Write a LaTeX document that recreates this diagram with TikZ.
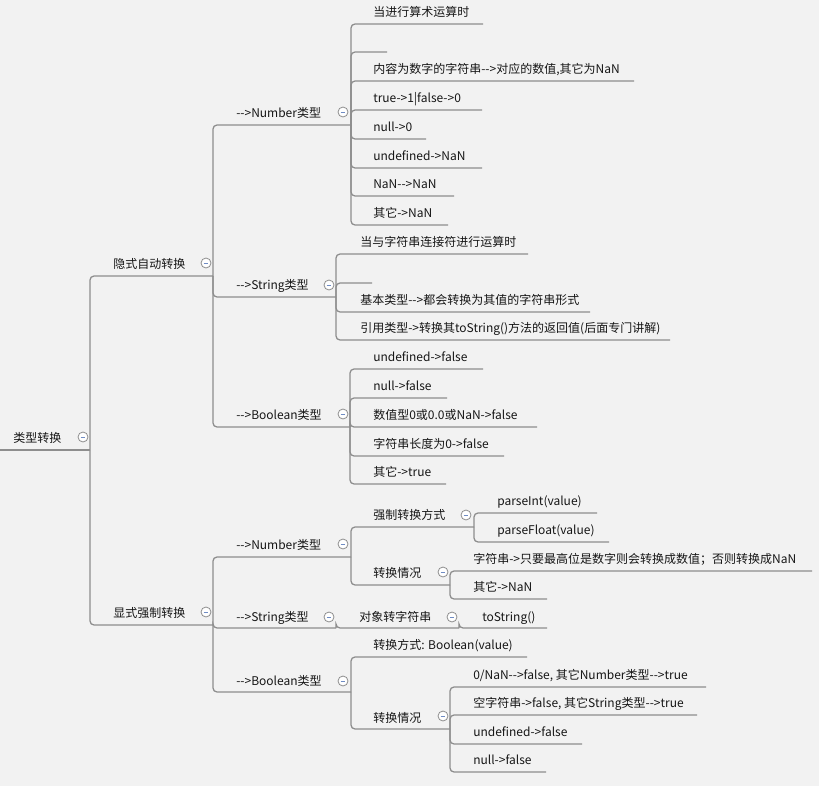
\documentclass[tikz,border=0pt]{standalone}
\usepackage{fontspec}
\newfontfamily\mmfont{Noto Sans CJK SC}
\definecolor{bg}{HTML}{F2F2F2}
\definecolor{ln}{HTML}{8E8E8E}
\definecolor{txt}{HTML}{161616}
\definecolor{mn}{HTML}{6F8CC4}
\tikzset{
  lbl/.style={anchor=base west, inner sep=0pt, text=txt, font=\mmfont\fontsize{9}{11}\selectfont},
  conn/.style={draw=ln, line width=0.95pt, rounded corners=3pt},
  fold/.style={circle, draw=ln, line width=0.6pt, fill=white, minimum size=7.5pt, inner sep=0pt,
    path picture={\draw[mn, line width=0.6pt] ([xshift=-1.8pt]path picture bounding box.center) -- ([xshift=1.8pt]path picture bounding box.center);}}
}
\begin{document}
\begin{tikzpicture}[x=0.75pt, y=-0.75pt]
\fill[bg] (0,0) rectangle (819,786);
\useasboundingbox (0,0) rectangle (819,786);

% ---- coordinates: right ends of each underline ----
\coordinate (rootS) at (0,450);
\coordinate (root) at (90,450);
\coordinate (A) at (213,276);
\coordinate (B) at (213,625);
\coordinate (A1) at (351,125);
\coordinate (A2) at (336,297);
\coordinate (A3) at (350,427);
\coordinate (a11) at (483,24);
\coordinate (a12) at (387,52);
\coordinate (a13) at (634,81);
\coordinate (a14) at (482,110);
\coordinate (a15) at (426,139);
\coordinate (a16) at (482,168);
\coordinate (a17) at (454,196);
\coordinate (a18) at (448,225);
\coordinate (a21) at (528,254);
\coordinate (a22) at (372,283);
\coordinate (a23) at (590,312);
\coordinate (a24) at (670,340);
\coordinate (a31) at (483,369);
\coordinate (a32) at (447,398);
\coordinate (a33) at (537,427);
\coordinate (a34) at (504,456);
\coordinate (a35) at (446,484);
\coordinate (B1) at (351,557);
\coordinate (B2) at (336,628);
\coordinate (B3) at (351,692);
\coordinate (b11) at (474,527);
\coordinate (b12) at (450,585);
\coordinate (b111) at (597,513);
\coordinate (b112) at (609,542);
\coordinate (b121) at (812,571);
\coordinate (b122) at (547,599);
\coordinate (b21) at (459,628);
\coordinate (b211) at (547,628);
\coordinate (b31) at (527,657);
\coordinate (b32) at (450,729);
\coordinate (b321) at (706,687);
\coordinate (b322) at (697,715);
\coordinate (b323) at (582,744);
\coordinate (b324) at (546,772);

% ---- connectors ----
\draw[conn] (rootS) -- (root);
\foreach \p/\c in {root/A, root/B,
  A/A1, A/A2, A/A3,
  A1/a11, A1/a12, A1/a13, A1/a14, A1/a15, A1/a16, A1/a17, A1/a18,
  A2/a21, A2/a22, A2/a23, A2/a24,
  A3/a31, A3/a32, A3/a33, A3/a34, A3/a35,
  B/B1, B/B2, B/B3,
  B1/b11, B1/b12, b11/b111, b11/b112, b12/b121, b12/b122,
  B2/b21, b21/b211,
  B3/b31, B3/b32, b32/b321, b32/b322, b32/b323, b32/b324}
  \draw[conn] (\p) |- (\c);

% ---- texts ----
\node[lbl] (roott) at (13,442) {类型转换};
\node[lbl] (At) at (113,268) {隐式自动转换};
\node[lbl] (Bt) at (113,617) {显式强制转换};
\node[lbl] (A1t) at (236,117) {-->Number类型};
\node[lbl] (A2t) at (236,289) {-->String类型};
\node[lbl] (A3t) at (236,419) {-->Boolean类型};
\node[lbl] (a11t) at (373,16) {当进行算术运算时};
\node[lbl] (a13t) at (373,73) {内容为数字的字符串-->对应的数值,其它为NaN};
\node[lbl] (a14t) at (373,102) {true->1|false->0};
\node[lbl] (a15t) at (373,131) {null->0};
\node[lbl] (a16t) at (373,160) {undefined->NaN};
\node[lbl] (a17t) at (373,188) {NaN-->NaN};
\node[lbl] (a18t) at (373,217) {其它->NaN};
\node[lbl] (a21t) at (360,246) {当与字符串连接符进行运算时};
\node[lbl] (a23t) at (360,304) {基本类型-->都会转换为其值的字符串形式};
\node[lbl] (a24t) at (360,332) {引用类型->转换其toString()方法的返回值(后面专门讲解)};
\node[lbl] (a31t) at (373,361) {undefined->false};
\node[lbl] (a32t) at (373,390) {null->false};
\node[lbl] (a33t) at (373,419) {数值型0或0.0或NaN->false};
\node[lbl] (a34t) at (373,448) {字符串长度为0->false};
\node[lbl] (a35t) at (373,476) {其它->true};
\node[lbl] (B1t) at (236,549) {-->Number类型};
\node[lbl] (B2t) at (236,621) {-->String类型};
\node[lbl] (B3t) at (236,685) {-->Boolean类型};
\node[lbl] (b11t) at (373,519) {强制转换方式};
\node[lbl] (b12t) at (373,577) {转换情况};
\node[lbl] (b111t) at (497,505) {parseInt(value)};
\node[lbl] (b112t) at (497,534) {parseFloat(value)};
\node[lbl] (b121t) at (473,563) {字符串->只要最高位是数字则会转换成数值；否则转换成NaN};
\node[lbl] (b122t) at (473,591) {其它->NaN};
\node[lbl] (b21t) at (359,621) {对象转字符串};
\node[lbl] (b211t) at (482,621) {toString()};
\node[lbl] (b31t) at (373,649) {转换方式: Boolean(value)};
\node[lbl] (b32t) at (373,722) {转换情况};
\node[lbl] (b321t) at (473,679) {0/NaN-->false, 其它Number类型-->true};
\node[lbl] (b322t) at (473,707) {空字符串->false, 其它String类型-->true};
\node[lbl] (b323t) at (473,736) {undefined->false};
\node[lbl] (b324t) at (473,764) {null->false};

% ---- fold markers ----
\node[fold] (froot) at (83,437) {};
\node[fold] (fA) at (206,263) {};
\node[fold] (fB) at (206,612) {};
\node[fold] (fA1) at (343,112) {};
\node[fold] (fA2) at (329,285) {};
\node[fold] (fA3) at (343,414) {};
\node[fold] (fB1) at (343,544) {};
\node[fold] (fB2) at (329,617) {};
\node[fold] (fB3) at (343,681) {};
\node[fold] (fb11) at (466,515) {};
\node[fold] (fb12) at (443,572) {};
\node[fold] (fb21) at (452,617) {};
\node[fold] (fb32) at (443,716) {};
\end{tikzpicture}
\end{document}
